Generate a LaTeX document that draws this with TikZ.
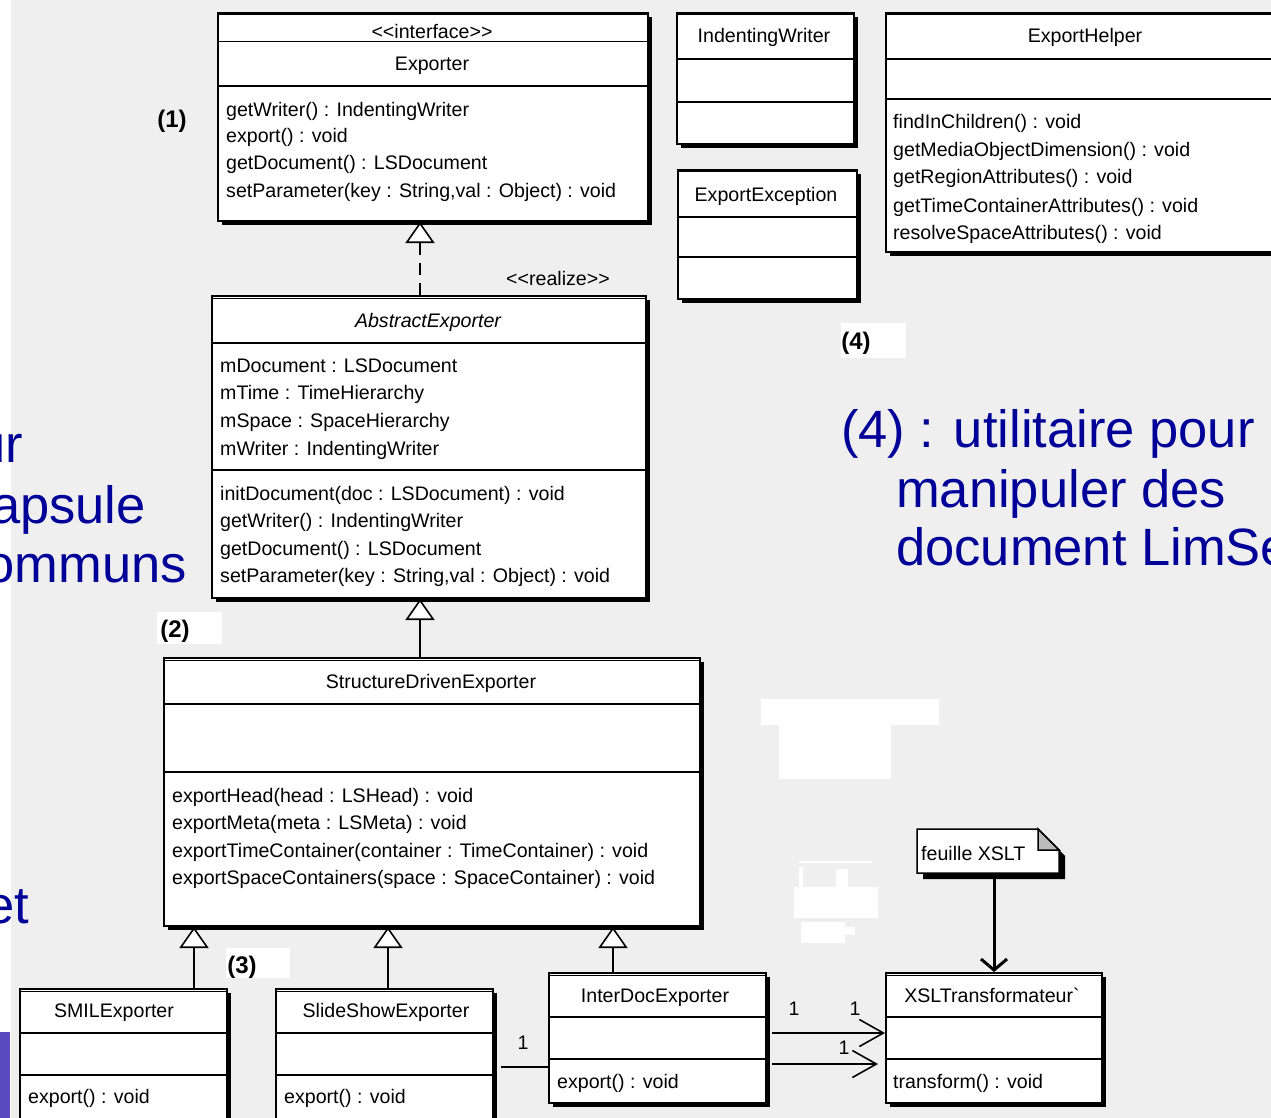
\documentclass[tikz,border=0pt]{standalone}
\usepackage{fontspec}
\newfontfamily\umlfont{Liberation Sans}
\usetikzlibrary{arrows.meta}

\definecolor{pagebg}{HTML}{EFEFEF}
\definecolor{slideblue}{RGB}{0,0,153}
\definecolor{barpurple}{RGB}{91,75,192}
\definecolor{foldgray}{HTML}{BBBBBB}

\tikzset{
  classbox/.style={draw=black, fill=white, line width=2pt, inner sep=0pt, rectangle},
  sepline/.style={line width=2pt},
  member/.style={anchor=base west, inner sep=0pt, font=\umlfont\fontsize{19.6}{24}\selectfont},
  classname/.style={anchor=base, inner sep=0pt, font=\umlfont\fontsize{19.6}{24}\selectfont},
  multlabel/.style={anchor=base, inner sep=0pt, font=\umlfont\fontsize{19.6}{24}\selectfont},
  numtag/.style={anchor=base, inner sep=0pt, font=\umlfont\bfseries\fontsize{24}{28}\selectfont},
  slidetext/.style={anchor=base west, inner sep=0pt, text=slideblue, font=\umlfont\fontsize{52.5}{60}\selectfont},
  inherit/.style={line width=1.6pt, -{Triangle[length=21pt,width=29pt,fill=white,line width=1.6pt]}},
  realizeline/.style={inherit, dash pattern=on 12pt off 8pt},
  assocline/.style={line width=1.6pt},
  assocarrow/.style={line width=1.6pt, -{Straight Barb[length=24pt,width=27pt]}},
}

% class box with drop shadow and double top rule
\newcommand\umlbox[5]{%
  \fill[black] ({#2+5},{#3+5}) rectangle ({#4+5},{#5+5});
  \node[classbox, minimum width={#4-#2}, minimum height={#5-#3}, anchor=north west] (#1) at (#2,#3) {};
  \draw[line width=1pt] (#2,{#3+3}) -- (#4,{#3+3});
}
\newcommand\sep[3]{\draw[sepline] (#1,#3) -- (#2,#3);}
\newcommand\dlt{<\kern0pt<}
\newcommand\dgt{>\kern0pt>}

\begin{document}
\begin{tikzpicture}[x=1pt,y=-1pt]
\useasboundingbox (0,0) rectangle (1271,1118);
\clip (0,0) rectangle (1271,1118);

% slide background
\fill[pagebg] (0,0) rectangle (1271,1118);
\fill[white] (0,0) rectangle (11,1118);
\fill[barpurple] (0,1032) rectangle (10,1118);

% slide text on the left
\node[slidetext, anchor=base east] (lt1) at (23,462) {ur};
\node[slidetext, anchor=base east] (lt2) at (146,523) {apsule};
\node[slidetext, anchor=base east] (lt3) at (187,582) {ommuns};
\node[slidetext, anchor=base east] (lt4) at (29,923) {et};

% slide text on the right
\node[slidetext] (rt1) at (841,447) {(4) : utilitaire pour};
\node[slidetext] (rt2) at (896,507) {manipuler des};
\node[slidetext] (rt3) at (896,565) {document LimSee2};

% white patches
\fill[white] (761,699) rectangle (939,725);
\fill[white] (779,720) rectangle (891,779);
\fill[white] (799,861) rectangle (872,863);
\fill[white] (799,867) rectangle (803,887);
\fill[white] (836,869) rectangle (848,887);
\fill[white] (794,887) rectangle (878,918);
\fill[white] (801,922) rectangle (845,943);
\fill[white] (845,927) rectangle (855,935);

% ---------- Exporter ----------
\umlbox{exporter}{217}{12}{647}{220}
\draw[line width=1pt] (217,42) -- (647,42);
\sep{217}{647}{86}
\node[classname] (expst) at (432,39) {\dlt interface\dgt};
\node[classname] (expname) at (432,71) {Exporter};
\node[member] (expm1) at (226,117) {getWriter() : IndentingWriter};
\node[member] (expm2) at (226,143) {export() : void};
\node[member] (expm3) at (226,170) {getDocument() : LSDocument};
\node[member] (expm4) at (226,198) {setParameter(key : String,val : Object) : void};

% ---------- AbstractExporter ----------
\umlbox{abstract}{211}{295}{645}{597}
\sep{211}{645}{343}
\sep{211}{645}{470}
\node[classname, font=\umlfont\itshape\fontsize{19.6}{24}\selectfont] (absname) at (428,327) {AbstractExporter};
\node[member] (absa1) at (220,372) {mDocument : LSDocument};
\node[member] (absa2) at (220,399) {mTime : TimeHierarchy};
\node[member] (absa3) at (220,427) {mSpace : SpaceHierarchy};
\node[member] (absa4) at (220,455) {mWriter : IndentingWriter};
\node[member] (absm1) at (220,500) {initDocument(doc : LSDocument) : void};
\node[member] (absm2) at (220,527) {getWriter() : IndentingWriter};
\node[member] (absm3) at (220,555) {getDocument() : LSDocument};
\node[member] (absm4) at (220,582) {setParameter(key : String,val : Object) : void};

% ---------- StructureDrivenExporter ----------
\umlbox{structure}{163}{657}{699}{925}
\sep{163}{699}{704}
\sep{163}{699}{772}
\node[classname] (sdname) at (431,688) {StructureDrivenExporter};
\node[member] (sdm1) at (172,802) {exportHead(head : LSHead) : void};
\node[member] (sdm2) at (172,829) {exportMeta(meta : LSMeta) : void};
\node[member] (sdm3) at (172,857) {exportTimeContainer(container : TimeContainer) : void};
\node[member] (sdm4) at (172,884) {exportSpaceContainers(space : SpaceContainer) : void};

% ---------- SMILExporter ----------
\umlbox{smil}{19}{988}{226}{1135}
\sep{19}{226}{1033}
\sep{19}{226}{1075}
\node[classname] (smilname) at (114,1017) {SMILExporter};
\node[member] (smilm1) at (28,1103) {export() : void};

% ---------- SlideShowExporter ----------
\umlbox{slide}{275}{988}{492}{1135}
\sep{275}{492}{1033}
\sep{275}{492}{1075}
\node[classname] (slidename) at (386,1017) {SlideShowExporter};
\node[member] (slidem1) at (284,1103) {export() : void};

% ---------- InterDocExporter ----------
\umlbox{inter}{548}{972}{765}{1102}
\sep{548}{765}{1017}
\sep{548}{765}{1059}
\node[classname] (intername) at (655,1002) {InterDocExporter};
\node[member] (interm1) at (557,1088) {export() : void};

% ---------- XSLTransformateur ----------
\umlbox{xsl}{885}{972}{1101}{1102}
\sep{885}{1101}{1017}
\sep{885}{1101}{1059}
\node[classname] (xslname) at (992,1002) {XSLTransformateur`};
\node[member] (xslm1) at (893,1088) {transform() : void};

% ---------- IndentingWriter ----------
\umlbox{indenting}{676}{12}{853}{143}
\sep{676}{853}{59}
\sep{676}{853}{102}
\node[classname] (indname) at (764,43) {IndentingWriter};

% ---------- ExportException ----------
\umlbox{exception}{677}{169}{856}{298}
\sep{677}{856}{217}
\sep{677}{856}{257}
\node[classname] (excname) at (766,202) {ExportException};

% ---------- ExportHelper ----------
\umlbox{helper}{885}{12}{1290}{251}
\sep{885}{1290}{59}
\sep{885}{1290}{99}
\node[classname] (helpname) at (1085,43) {ExportHelper};
\node[member] (helpm1) at (893,129) {findInChildren() : void};
\node[member] (helpm2) at (893,157) {getMediaObjectDimension() : void};
\node[member] (helpm3) at (893,184) {getRegionAttributes() : void};
\node[member] (helpm4) at (893,212) {getTimeContainerAttributes() : void};
\node[member] (helpm5) at (893,239) {resolveSpaceAttributes() : void};

% ---------- note ----------
\fill[black] (923,835) -- (1044,835) -- (1065,856) -- (1065,879) -- (923,879) -- cycle;
\filldraw[fill=white, draw=black, line width=1.5pt] (917,829) -- (1038,829) -- (1059,850) -- (1059,873) -- (917,873) -- cycle;
\filldraw[fill=foldgray, draw=black, line width=1.5pt] (1038,829) -- (1038,850) -- (1059,850) -- cycle;
\node[inner sep=0pt, minimum width=142, minimum height=50, anchor=north west] (note) at (917,829) {};
\node[member] (notetext) at (921,860) {feuille XSLT};

% ---------- connectors ----------
\coordinate (rx) at (420,0);
\coordinate (ax) at (194,0);
\coordinate (bx) at (388,0);
\coordinate (cx) at (613,0);
\coordinate (nx) at (994,0);
\coordinate (ya) at (0,1067);
\coordinate (yb) at (0,1033);
\coordinate (yc) at (0,1064);

\draw[realizeline] (abstract.north -| rx) -- (exporter.south -| rx);
\node[classname] (realizetag) at (558,285) {\dlt realize\dgt};

\draw[inherit] (structure.north -| rx) -- (abstract.south -| rx);
\draw[inherit] (smil.north -| ax) -- (structure.south -| ax);
\draw[inherit] (slide.north -| bx) -- (structure.south -| bx);
\draw[inherit] (inter.north -| cx) -- (structure.south -| cx);

\draw[assocline, shorten <=7pt] (slide.east |- ya) -- (inter.west |- ya);
\node[multlabel] (m1) at (523,1049) {1};

\draw[assocarrow, shorten <=5pt] (inter.east |- yb) -- (xsl.west |- yb);
\node[multlabel] (m2) at (794,1015) {1};
\node[multlabel] (m3) at (855,1015) {1};

\draw[assocarrow, shorten <=5pt, shorten >=7pt] (inter.east |- yc) -- (xsl.west |- yc);
\node[multlabel] (m4) at (844,1054) {1};

\draw[line width=3pt, -{Straight Barb[length=11pt,width=26pt]}] (note.south -| nx) -- (xsl.north -| nx);

% ---------- numbered tags ----------
\node[numtag] (tag1) at (172,128) {(1)};
\fill[white] (157,612) rectangle (222,644);
\node[numtag] (tag2) at (175,637) {(2)};
\fill[white] (226,948) rectangle (290,978);
\node[numtag] (tag3) at (242,973) {(3)};
\fill[white] (841,323) rectangle (906,358);
\node[numtag] (tag4) at (856,349) {(4)};
\end{tikzpicture}
\end{document}
